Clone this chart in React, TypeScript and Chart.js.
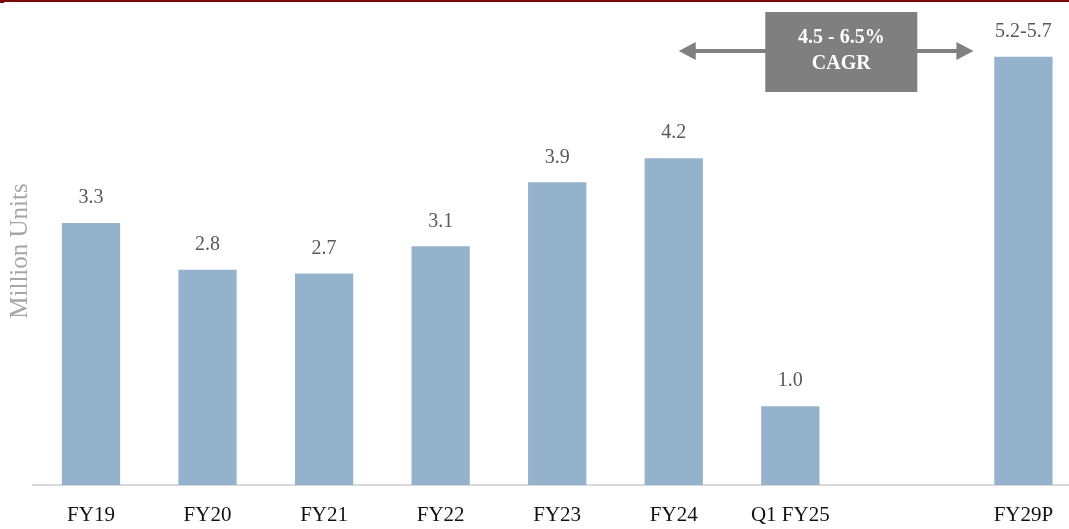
import { useEffect, useRef } from "react";
import { Chart, registerables } from "chart.js";

Chart.register(...registerables);

const categories = ["FY19", "FY20", "FY21", "FY22", "FY23", "FY24", "Q1 FY25", "", "FY29P"];
const unitValues: (number | null)[] = [3.36, 2.76, 2.71, 3.06, 3.88, 4.19, 1.01, null, 5.49];
const valueLabels = ["3.3", "2.8", "2.7", "3.1", "3.9", "4.2", "1.0", "", "5.2-5.7"];
const yTitle = "Million Units";
const cagrLines = ["4.5 - 6.5%", "CAGR"];

const SERIF = "'Liberation Serif', 'Times New Roman', serif";

const overlayPlugin = {
  id: "overlay",
  beforeDraw(chart: any) {
    const ctx = chart.ctx;
    ctx.save();
    ctx.fillStyle = "#7a0a0a";
    ctx.fillRect(0, 0, chart.width, 2);
    ctx.fillRect(0, 0, 4, 3);
    ctx.restore();
  },
  afterDatasetsDraw(chart: any) {
    const ctx = chart.ctx;
    const meta = chart.getDatasetMeta(0);
    ctx.save();
    ctx.font = `20px ${SERIF}`;
    ctx.fillStyle = "#595959";
    ctx.textAlign = "center";
    ctx.textBaseline = "middle";
    meta.data.forEach((bar: any, i: number) => {
      if (unitValues[i] == null) return;
      ctx.fillText(valueLabels[i], bar.x, bar.y - 25);
    });

    // CAGR annotation
    const xs = chart.scales.x;
    const top = chart.chartArea.top;
    const leftTip = xs.getPixelForValue(5) + 5;
    const rightTip = xs.getPixelForValue(8) - 50;
    const boxCx = xs.getPixelForValue(6) + 51;
    const boxW = 152;
    const boxTop = top - 5;
    const boxH = 80;
    const arrowY = top + 34;
    const grey = "#808080";
    ctx.strokeStyle = grey;
    ctx.fillStyle = grey;
    ctx.lineWidth = 4;
    ctx.beginPath();
    ctx.moveTo(leftTip + 12, arrowY);
    ctx.lineTo(rightTip - 12, arrowY);
    ctx.stroke();
    const head = 17;
    const hh = 9;
    ctx.beginPath();
    ctx.moveTo(leftTip, arrowY);
    ctx.lineTo(leftTip + head, arrowY - hh);
    ctx.lineTo(leftTip + head, arrowY + hh);
    ctx.closePath();
    ctx.fill();
    ctx.beginPath();
    ctx.moveTo(rightTip, arrowY);
    ctx.lineTo(rightTip - head, arrowY - hh);
    ctx.lineTo(rightTip - head, arrowY + hh);
    ctx.closePath();
    ctx.fill();
    ctx.fillStyle = "#7f7f7f";
    ctx.fillRect(boxCx - boxW / 2, boxTop, boxW, boxH);
    ctx.fillStyle = "#ffffff";
    ctx.font = `bold 20px ${SERIF}`;
    ctx.fillText(cagrLines[0], boxCx, boxTop + 26);
    ctx.fillText(cagrLines[1], boxCx, boxTop + 52);
    ctx.restore();
  },
};

export default function App() {
  const ref = useRef<HTMLCanvasElement>(null);
  useEffect(() => {
    document.body.style.margin = "0";
    const canvas = ref.current!;
    const chart = new Chart(canvas, {
      type: "bar",
      data: {
        labels: categories,
        datasets: [
          {
            data: unitValues as any,
            backgroundColor: "#94b2cc",
            borderWidth: 0,
            categoryPercentage: 1,
            barPercentage: 0.5,
          },
        ],
      },
      options: {
        animation: false,
        responsive: false,
        devicePixelRatio: 1,
        layout: { padding: { left: 0, right: 18.3, top: 17, bottom: 0 } },
        plugins: { legend: { display: false }, tooltip: { enabled: false } },
        scales: {
          x: {
            grid: { display: false, drawTicks: false },
            border: { display: true, color: "#d9d9d9", width: 2 },
            ticks: {
              color: "#111111",
              font: { family: SERIF, size: 21 },
              padding: 18,
              maxRotation: 0,
              autoSkip: false,
            },
            afterFit: (s: any) => {
              s.height = 44;
            },
          },
          y: {
            min: 0,
            max: 6,
            grid: { display: false, drawTicks: false },
            border: { display: false },
            ticks: { display: false },
            title: {
              display: true,
              text: yTitle,
              color: "#a6a6a6",
              font: { family: SERIF, size: 25 },
              padding: { top: 5, bottom: 0 },
            },
            afterFit: (s: any) => {
              s.width = 32.7;
            },
          },
        },
      },
      plugins: [overlayPlugin],
    });
    return () => chart.destroy();
  }, []);
  return (
    <div style={{ position: "relative", width: 1069, height: 529, overflow: "hidden", background: "#fff" }}>
      <canvas ref={ref} width={1100} height={529} style={{ position: "absolute", left: 0, top: 0, width: 1100, height: 529 }} />
    </div>
  );
}
